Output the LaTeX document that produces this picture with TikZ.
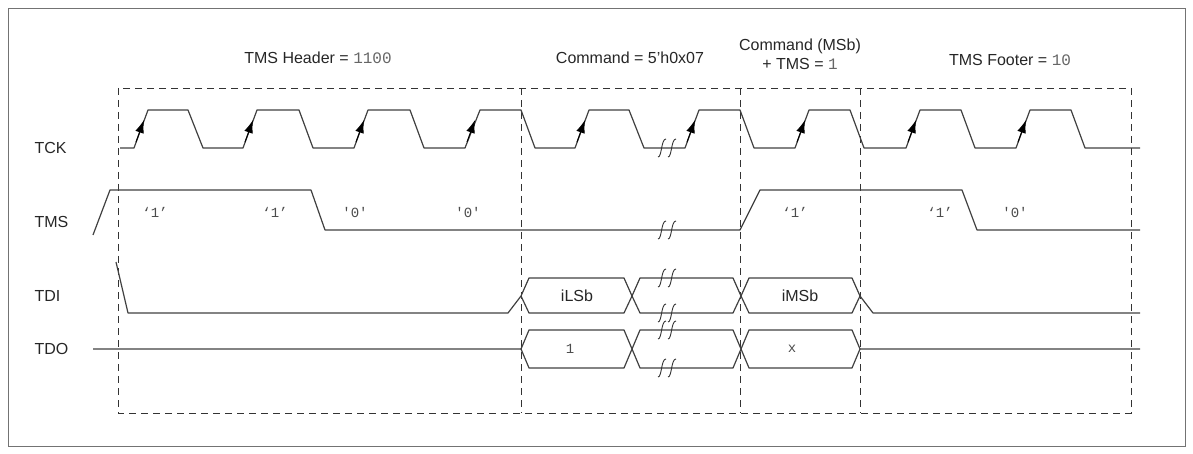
\documentclass[tikz,border=0pt]{standalone}
\usepackage{fontspec}
\setmainfont{Liberation Sans}
\setmonofont{Liberation Mono}
\usetikzlibrary{arrows.meta}
\begin{document}
\begin{tikzpicture}[x=1pt,y=-1pt,
  wave/.style={draw=black!75,line width=1.2pt,line join=round},
  guide/.style={draw=black!80,dash pattern=on 7pt off 5pt,line width=0.8pt},
  lbl/.style={font=\fontsize{16}{19}\selectfont,text=black!85},
  bit/.style={font=\ttfamily\fontsize{14}{16}\selectfont,text=black!70},
  brk/.style={draw=black!80,line width=0.9pt}]
\useasboundingbox (0,0) rectangle (1193,454);
\draw[black!55,line width=0.8pt] (8,8) rectangle (1185,446);
% dashed box & guides
\draw[guide] (118,88) rectangle (1131,413);
\foreach \x in {521,740,860} \draw[guide] (\x,88) -- (\x,413);
% headers
\node[lbl] (h1) at (318,58) {TMS Header = \texttt{\color{black!60}1100}};
\node[lbl] (h2) at (630,58) {Command = 5’h0x07};
\node[lbl,align=center,inner sep=0pt] (h3) at (800,54) {Command (MSb)\\+ TMS = \texttt{\color{black!60}1}};
\node[lbl] (h4) at (1010,60) {TMS Footer = \texttt{\color{black!60}10}};
% signal names
\node[lbl,anchor=west] (ntck) at (31,148) {TCK};
\node[lbl,anchor=west] (ntms) at (31,222) {TMS};
\node[lbl,anchor=west] (ntdi) at (31,296) {TDI};
\node[lbl,anchor=west] (ntdo) at (31,349) {TDO};
% TCK
\draw[wave] (120,148) -- (134,148)
  -- (148,110) -- (188,110) -- (203,148) -- (243,148)
  -- (257,110) -- (299,110) -- (313,148) -- (354,148)
  -- (368,110) -- (410,110) -- (424,148) -- (465,148)
  -- (480,110) -- (521,110) -- (535,148) -- (575,148)
  -- (589,110) -- (629,110) -- (644,148) -- (685,148)
  -- (699,110) -- (740,110) -- (754,148) -- (795,148)
  -- (809,110) -- (850,110) -- (864,148) -- (906,148)
  -- (920,110) -- (961,110) -- (975,148) -- (1016,148)
  -- (1030,110) -- (1071,110) -- (1085,148) -- (1140,148);
\foreach \x in {134,243,354,465,575,685,795,906,1016}
  \draw[-{Latex[length=13pt,width=9pt]},line width=1pt] (\x+2,142) -- (\x+10,120);
% TMS
\draw[wave] (93,235) -- (110,190) -- (311,190) -- (325,230) -- (740,230)
  -- (760,190) -- (962,190) -- (977,230) -- (1140,230);
\foreach \x/\t in {155/‘1’,275/‘1’,355/'0',468/'0',795/‘1’,940/‘1’,1015/'0'}
  \node[bit] at (\x,212) {\t};
% TDI
\draw[wave] (116,262) -- (128,313) -- (508,313) -- (521,296) -- (529,278) -- (624,278) -- (632,296) -- (640,278) -- (733,278) -- (741,296) -- (749,278) -- (852,278) -- (860,296) -- (873,313) -- (1140,313);
\draw[wave] (521,296) -- (529,313) -- (624,313) -- (632,296) -- (640,313) -- (733,313) -- (741,296) -- (749,313) -- (852,313) -- (860,296);
\node[lbl] at (577,296) {iLSb};
\node[lbl] at (800,296) {iMSb};
% TDO
\draw[wave] (93,349) -- (521,349) -- (529,330) -- (624,330) -- (632,349) -- (640,330) -- (733,330) -- (741,349) -- (749,330) -- (852,330) -- (860,349) -- (1140,349);
\draw[wave] (521,349) -- (529,368) -- (624,368) -- (632,349) -- (640,368) -- (733,368) -- (741,349) -- (749,368) -- (852,368) -- (860,349);
\node[bit] at (570,349) {1};
\node[bit] at (792,349) {x};
% break marks
\foreach \y in {148,230,278,313,330,368}
  \foreach \dx in {0,10}
    \draw[brk] (658+\dx,\y+9) .. controls (662+\dx,\y+9) and (661+\dx,\y-9) .. (666+\dx,\y-9);
\end{tikzpicture}
\end{document}
